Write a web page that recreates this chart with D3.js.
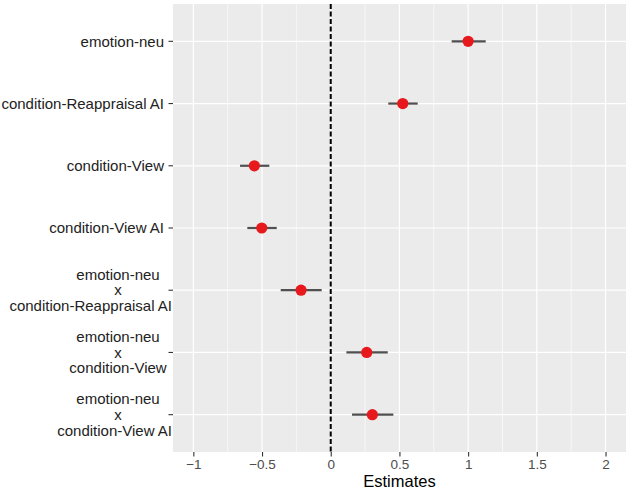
<!doctype html>
<html lang="en">
<head>
  <meta charset="utf-8">
  <script src="https://d3js.org/d3.v7.min.js"></script>
  <style>
    body { margin: 0; background: #fff; }
    text { font-family: "Liberation Sans", Arial, Helvetica, sans-serif; }
  </style>
</head>
<body>
  <svg id="chart"></svg>
  <script>
    // model terms, top to bottom (lines split on "\n")
    var terms = [
      "emotion-neu",
      "condition-Reappraisal AI",
      "condition-View",
      "condition-View AI",
      "emotion-neu\nx\ncondition-Reappraisal AI",
      "emotion-neu\nx\ncondition-View",
      "emotion-neu\nx\ncondition-View AI"
    ];
    var estimates = [1.00, 0.524, -0.556, -0.502, -0.216, 0.262, 0.303];
    var ciLow     = [0.880, 0.419, -0.660, -0.607, -0.364, 0.114, 0.155];
    var ciHigh    = [1.128, 0.633, -0.447, -0.393, -0.066, 0.415, 0.456];
    var xTicks = [-1, -0.5, 0, 0.5, 1, 1.5, 2];
    var xMinor = [-0.75, -0.25, 0.25, 0.75, 1.25, 1.75];

    var width = 630, height = 492;
    var margin = {top: 4, right: 4, bottom: 40, left: 173};

    var svg = d3.select("#chart")
      .attr("width", width)
      .attr("height", height);

    var x = d3.scaleLinear()
      .domain([-1.148, 2.149])
      .range([margin.left, width - margin.right]);

    // discrete scale, ggplot style padding of 0.6 on each end
    var y = d3.scalePoint()
      .domain(terms)
      .range([margin.top, height - margin.bottom])
      .padding(0.6);

    var x0 = margin.left, x1 = width - margin.right;
    var y0 = margin.top, y1 = height - margin.bottom;

    svg.append("rect")
      .attr("x", x0).attr("y", y0)
      .attr("width", x1 - x0).attr("height", y1 - y0)
      .attr("fill", "#EBEBEB");

    var grid = svg.append("g");
    grid.selectAll(".minor")
      .data(xMinor)
      .join("line")
        .attr("x1", d => x(d)).attr("x2", d => x(d))
        .attr("y1", y0).attr("y2", y1)
        .attr("stroke", "#fff").attr("stroke-width", 0.6);
    grid.selectAll(".major")
      .data(xTicks)
      .join("line")
        .attr("x1", d => x(d)).attr("x2", d => x(d))
        .attr("y1", y0).attr("y2", y1)
        .attr("stroke", "#fff").attr("stroke-width", 1.2);
    grid.selectAll(".hmajor")
      .data(terms)
      .join("line")
        .attr("x1", x0).attr("x2", x1)
        .attr("y1", d => y(d)).attr("y2", d => y(d))
        .attr("stroke", "#fff").attr("stroke-width", 1.2);

    // reference line at zero
    svg.append("line")
      .attr("x1", x(0)).attr("x2", x(0))
      .attr("y1", y0).attr("y2", y1)
      .attr("stroke", "#000")
      .attr("stroke-width", 2)
      .attr("stroke-dasharray", "5,2.5");

    var rows = terms.map((t, i) => ({term: t, est: estimates[i], lo: ciLow[i], hi: ciHigh[i]}));

    svg.append("g")
      .selectAll("line")
      .data(rows)
      .join("line")
        .attr("x1", d => x(d.lo)).attr("x2", d => x(d.hi))
        .attr("y1", d => y(d.term)).attr("y2", d => y(d.term))
        .attr("stroke", "#505050")
        .attr("stroke-width", 2.2);

    svg.append("g")
      .selectAll("circle")
      .data(rows)
      .join("circle")
        .attr("cx", d => x(d.est))
        .attr("cy", d => y(d.term))
        .attr("r", 5.6)
        .attr("fill", "#E8191C");

    // x axis
    var xAxis = svg.append("g")
      .attr("transform", `translate(0,${y1})`)
      .call(d3.axisBottom(x).tickValues(xTicks).tickSize(4.5).tickPadding(3)
        .tickFormat(d => d3.format("")(d).replace("-", "\u2212")));
    xAxis.select(".domain").remove();
    xAxis.selectAll(".tick line").attr("stroke", "#333").attr("stroke-width", 1.1);
    xAxis.selectAll(".tick text")
      .attr("fill", "#4D4D4D")
      .attr("font-size", 13.5)
      .attr("font-family", "Liberation Sans, Arial, sans-serif");

    svg.append("text")
      .attr("x", (x0 + x1) / 2)
      .attr("y", height - 5)
      .attr("text-anchor", "middle")
      .attr("font-size", 16.5)
      .attr("fill", "#000")
      .text("Estimates");

    // y axis: ticks + labels
    var yAxis = svg.append("g");
    yAxis.selectAll("line")
      .data(terms)
      .join("line")
        .attr("x1", x0 - 4.5).attr("x2", x0)
        .attr("y1", d => y(d)).attr("y2", d => y(d))
        .attr("stroke", "#333").attr("stroke-width", 1.1);

    var labelRight = x0 - 9;
    var lineH = 15.8;
    var fs = 15;
    terms.forEach(function(t) {
      var lines = t.split("\n");
      if (lines.length === 1) {
        yAxis.append("text")
          .attr("x", labelRight)
          .attr("y", y(t))
          .attr("dy", "0.35em")
          .attr("text-anchor", "end")
          .attr("font-size", fs)
          .attr("fill", "#222")
          .text(t);
        return;
      }
      lines.forEach(function(s, j) {
        var txt = yAxis.append("text")
          .attr("y", y(t) + (j - (lines.length - 1) / 2) * lineH)
          .attr("dy", "0.35em")
          .attr("text-anchor", "middle")
          .attr("font-size", fs)
          .attr("fill", "#222")
          .text(s);
        var w = txt.node().getComputedTextLength();
        txt.attr("x", Math.min(118, x0 - 1 - w / 2));
      });
    });
  </script>
</body>
</html>
